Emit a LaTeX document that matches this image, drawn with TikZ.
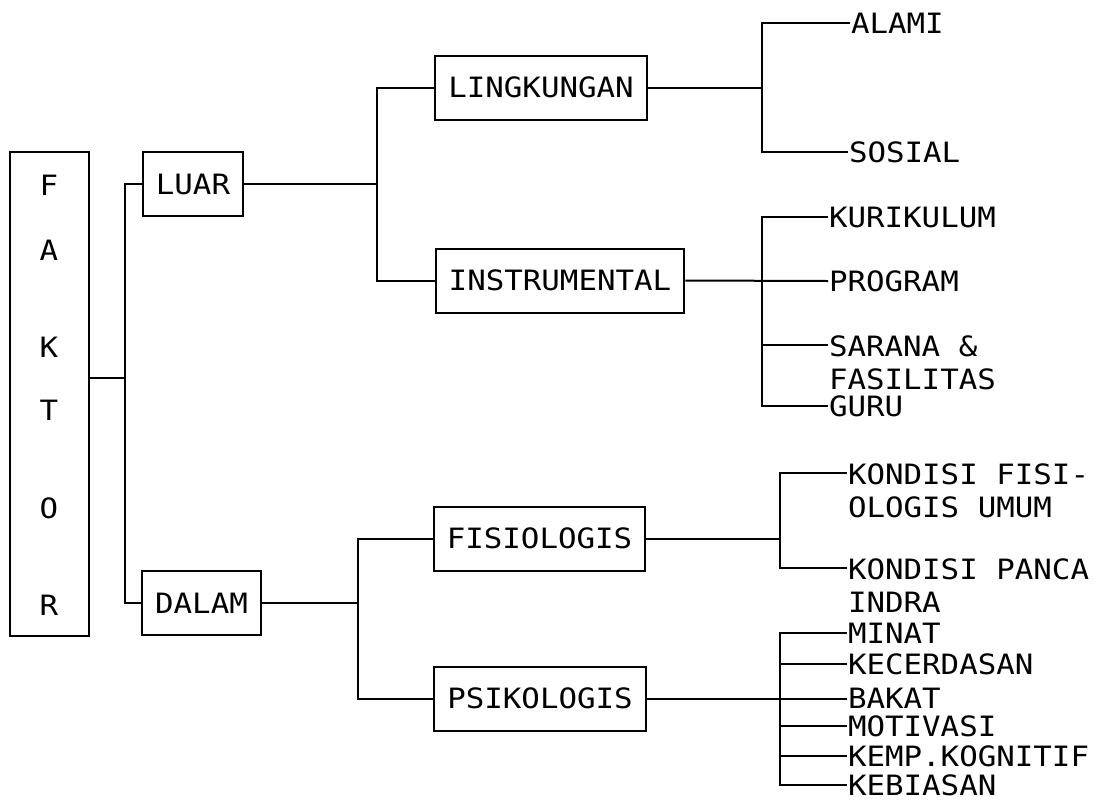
\documentclass[tikz,border=0pt]{standalone}
\usepackage{fontspec}
\newfontfamily\matrixfont[FakeStretch=1.1]{DejaVu Sans Mono}
\usetikzlibrary{positioning}

\tikzset{
	kotak/.style={draw,rectangle,inner xsep=13pt,inner ysep=0pt,minimum height=64pt},
	daun/.style={anchor=west,inner sep=0pt},
	daunbaris/.style={anchor=north west,inner sep=0pt,align=left},
}

\begin{document}
\begin{tikzpicture}[x=1pt,y=-1pt,line width=2pt,font=\matrixfont\fontsize{28}{32.5}\selectfont]
	\useasboundingbox (0,0) rectangle (1099,804);
	% kolom faktor
	\node[draw,rectangle,minimum width=79pt,minimum height=484pt] (faktor) at (49.5,394) {};
	\foreach \h/\y in {F/185,A/250,K/347,T/410,O/508,R/605}
		\node (huruf\h) at (49,\y) {\h};
	% tingkat pertama
	\node[kotak] (luar) at (193,184) {LUAR};
	\node[kotak] (dalam) at (201.5,603) {DALAM};
	% tingkat kedua
	\node[kotak] (ling) at (541,87.5) {LINGKUNGAN};
	\node[kotak] (inst) at (560,280.5) {INSTRUMENTAL};
	\node[kotak] (fis) at (539.5,538.5) {FISIOLOGIS};
	\node[kotak] (psi) at (540,698.5) {PSIKOLOGIS};
	% rincian
	\node[daun] (alami) at (850,23) {ALAMI};
	\node[daun] (sosial) at (848,152) {SOSIAL};
	\node[daun] (kurikulum) at (828,217) {KURIKULUM};
	\node[daun] (program) at (828,281) {PROGRAM};
	\node[daunbaris] (sarana) at (828,335) {SARANA \&\\FASILITAS};
	\node[daun] (guru) at (828,406) {GURU};
	\node[daunbaris] (kfis) at (847,463) {KONDISI FISI-\\OLOGIS UMUM};
	\node[daunbaris] (kpanca) at (847,558) {KONDISI PANCA\\INDRA};
	\node[daun] (minat) at (847,633) {MINAT};
	\node[daun] (cerdas) at (847,664) {KECERDASAN};
	\node[daun] (bakat) at (847,698.5) {BAKAT};
	\node[daun] (motivasi) at (847,726) {MOTIVASI};
	\node[daun] (kemp) at (847,756) {KEMP.KOGNITIF};
	\node[daun] (kebiasan) at (847,785) {KEBIASAN};
	% titik cabang
	\coordinate (c0) at (125,378);
	\coordinate (c1) at (377,184);
	\coordinate (c2) at (762,87.5);
	\coordinate (c3) at (762,281);
	\coordinate (c4) at (358,603);
	\coordinate (c5) at (780,538.5);
	\coordinate (c6) at (780,698.5);
	\coordinate (ujungsarana) at (828,345);
	\coordinate (ujungkfis) at (847,473);
	\coordinate (ujungkpanca) at (847,568);
	% garis
	\draw (faktor.east |- c0) -- (c0);
	\draw (luar.west) -| (c0) |- (dalam.west);
	\draw (luar.east) -- (c1);
	\draw (ling.west) -| (c1) |- (inst.west);
	\draw (ling.east) -- (c2);
	\draw (alami.west) -| (c2) |- (sosial.west);
	\draw (inst.east) -- (program.west);
	\draw (kurikulum.west) -| (c3) |- (guru.west);
	\draw (c3 |- ujungsarana) -- (ujungsarana);
	\draw (dalam.east) -- (c4);
	\draw (fis.west) -| (c4) |- (psi.west);
	\draw (fis.east) -- (c5);
	\draw (ujungkfis) -| (c5) |- (ujungkpanca);
	\draw (psi.east) -- (bakat.west);
	\draw (minat.west) -| (c6) |- (kebiasan.west);
	\foreach \n in {cerdas,motivasi,kemp}
		\draw (c6 |- \n.west) -- (\n.west);
\end{tikzpicture}
\end{document}
